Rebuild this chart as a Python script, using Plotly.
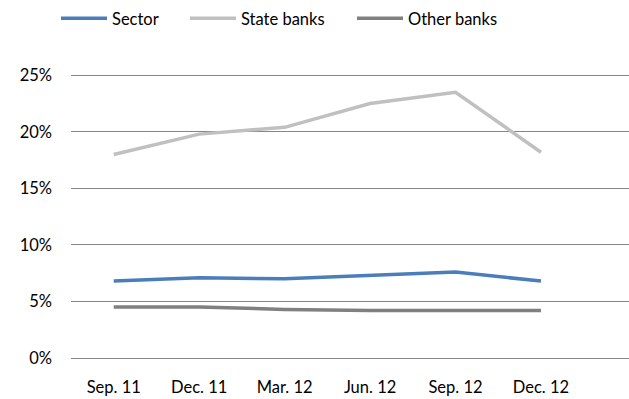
import plotly.graph_objects as go

# Quarter-end labels
quarters = ["Sep. 11", "Dec. 11", "Mar. 12", "Jun. 12", "Sep. 12", "Dec. 12"]

# Ratios by bank group (share)
sector = [0.068, 0.071, 0.070, 0.073, 0.076, 0.068]
state_banks = [0.180, 0.198, 0.204, 0.225, 0.235, 0.182]
other_banks = [0.045, 0.045, 0.043, 0.042, 0.042, 0.042]

FONT = "Lato"
x_idx = list(range(len(quarters)))

fig = go.Figure()
series = [
    ("Sector", sector, "#4A7EBB", "legend"),
    ("State banks", state_banks, "#C0C0C0", "legend2"),
    ("Other banks", other_banks, "#808080", "legend3"),
]
for name, vals, color, leg in series:
    fig.add_trace(go.Scatter(
        x=x_idx, y=vals, name=name, mode="lines",
        line=dict(color=color, width=3.5),
        legend=leg, showlegend=True,
    ))

legend_common = dict(
    orientation="h", yanchor="middle", y=1.155, xanchor="left",
    bgcolor="rgba(0,0,0,0)", borderwidth=0, itemwidth=46,
    font=dict(family=FONT, size=16.5, color="#000000"),
)
legend_x = [62, 191, 358]
plot_left, plot_w = 71, 629 - 71

def to_paper(px):
    return (px - plot_left) / plot_w

fig.update_layout(
    width=629, height=399,
    margin=dict(l=71, r=0, t=64, b=41),
    paper_bgcolor="white", plot_bgcolor="white",
    showlegend=True,
    font=dict(family=FONT, size=16.5, color="#000000"),
    legend=dict(legend_common, x=to_paper(legend_x[0] - 6)),
    legend2=dict(legend_common, x=to_paper(legend_x[1] - 6)),
    legend3=dict(legend_common, x=to_paper(legend_x[2] - 6)),
    xaxis=dict(
        range=[-0.5, 6.03], tickmode="array", tickvals=x_idx, ticktext=quarters,
        showgrid=False, zeroline=False, showline=False, ticks="",
        ticklabelstandoff=17,
    ),
    yaxis=dict(
        range=[0, 0.26], tickvals=[0, 0.05, 0.10, 0.15, 0.20, 0.25],
        tickformat=".0%", showgrid=True, gridcolor="#868686", gridwidth=1,
        zeroline=True, zerolinecolor="#868686", zerolinewidth=1,
        showline=False, ticks="", ticklabelstandoff=18,
    ),
)

fig.write_html("out.html")
